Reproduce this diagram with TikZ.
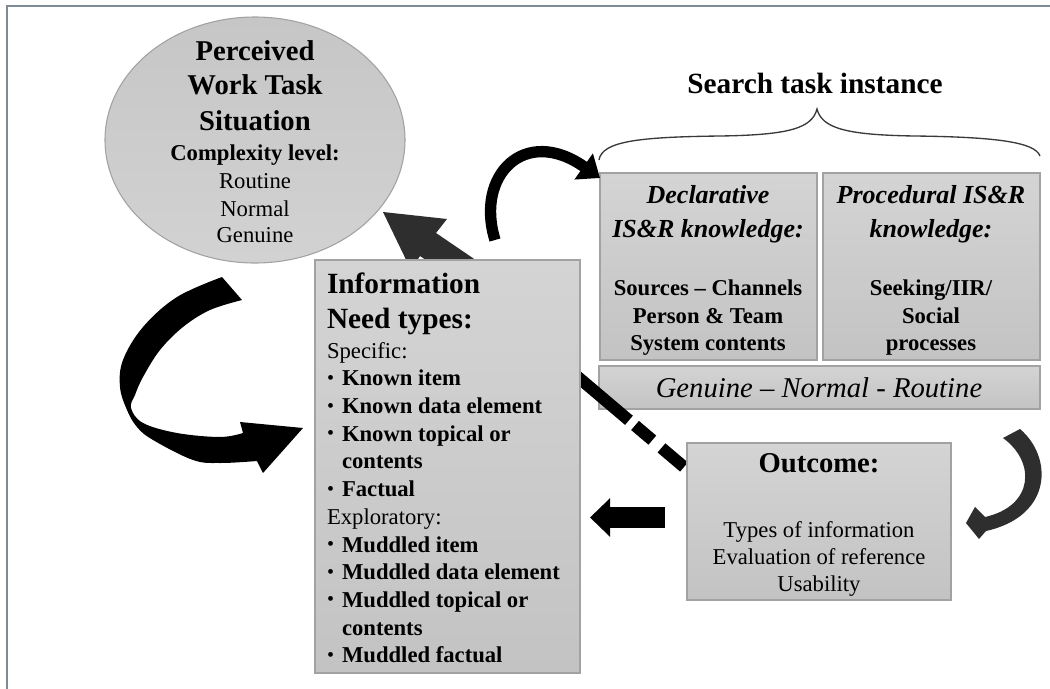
\documentclass[tikz,border=0pt]{standalone}
\usepackage{fontspec}
\setmainfont{Liberation Serif}
\usetikzlibrary{shapes.geometric,arrows.meta,fit}

\definecolor{boxedge}{HTML}{A2A2A2}
\definecolor{boxtop}{HTML}{D4D4D4}
\definecolor{boxbot}{HTML}{C3C3C3}
\definecolor{ovaltop}{HTML}{C6C6C6}
\definecolor{ovalbot}{HTML}{D2D2D2}
\definecolor{frameline}{HTML}{7F8B96}
\definecolor{darkarrow}{HTML}{2E2E2E}
\definecolor{bracegray}{HTML}{3A3A3A}

\newcommand\bul{\makebox[11.25pt][l]{\raisebox{0.8pt}{\fontsize{15}{15}\selectfont\textbullet}}}
\newcommand\ind{\hspace*{11.25pt}}

\begin{document}
\begin{tikzpicture}[x=0.75pt,y=-0.75pt,
  panel/.style={draw=boxedge, line width=0.8pt, top color=boxtop, bottom color=boxbot, inner sep=0pt},
  txt/.style={anchor=base, inner sep=0pt, outer sep=0pt},
  ltxt/.style={anchor=base west, inner sep=0pt, outer sep=0pt},
  bigbold/.style={font=\fontsize{21.5}{26}\selectfont\bfseries},
  midbold/.style={font=\fontsize{17}{20}\selectfont\bfseries},
  plain/.style={font=\fontsize{17}{20}\selectfont},
  knowhead/.style={font=\fontsize{19.5}{24}\selectfont\bfseries\itshape},
]
\useasboundingbox (0,0) rectangle (1050,689);
\fill[white] (0,0) rectangle (1050,689);
\draw[frameline, line width=1.5pt] (7,689) -- (7,6) -- (1050,6);

% ---- perceived work task situation ----
\node[ellipse, draw=boxedge, line width=0.8pt, top color=ovaltop, bottom color=ovalbot,
      minimum width=225pt, minimum height=184.5pt, inner sep=0pt] (wts) at (255,140) {};
\node[txt, bigbold] (wts1) at (255,60) {Perceived};
\node[txt, bigbold] (wts2) at (255,94) {Work Task};
\node[txt, bigbold] (wts3) at (255,130) {Situation};
\node[txt, midbold] (wts4) at (255,160) {Complexity level:};
\node[txt, plain] (wts5) at (255,188) {Routine};
\node[txt, plain] (wts6) at (255,216) {Normal};
\node[txt, plain] (wts7) at (255,242) {Genuine};

% ---- arrow from the need types up to the work task (partly behind the box) ----
\fill[darkarrow] (383,212) -- (447,219) -- (436,233) -- (486,267) -- (470,290)
  -- (420,256) -- (411,270) -- cycle;

% ---- search task instance ----
\node[txt, font=\fontsize{22}{26}\selectfont\bfseries] (sti) at (815,93) {Search task instance};
\draw[bracegray, line width=1pt]
  (599,160) .. controls (602,141) and (640,137) .. (720,136)
  .. controls (790,135) and (812,128) .. (817,109)
  .. controls (822,128) and (845,135) .. (915,136)
  .. controls (995,137) and (1035,142) .. (1040,156);

\node[panel, fit={(600,173) (817,360)}] (decl) {};
\node[panel, fit={(823,173) (1040,360)}] (proc) {};
\node[panel, fit={(599,366) (1040,409)}] (level) {};

\node[txt, knowhead] (decl1) at (708,203) {Declarative};
\node[txt, knowhead] (decl2) at (708,237) {IS\&R knowledge:};
\node[txt, midbold] (decl3) at (708,295) {Sources – Channels};
\node[txt, midbold] (decl4) at (708,323) {Person \& Team};
\node[txt, midbold] (decl5) at (708,350) {System contents};

\node[txt, knowhead] (proc1) at (931,203) {Procedural IS\&R};
\node[txt, knowhead] (proc2) at (931,237) {knowledge:};
\node[txt, midbold] (proc3) at (931,295) {Seeking/IIR/};
\node[txt, midbold] (proc4) at (931,323) {Social};
\node[txt, midbold] (proc5) at (931,350) {processes};

\node[txt, font=\fontsize{21.5}{26}\selectfont\itshape] (level1) at (819,397) {Genuine – Normal - Routine};

% ---- dashed link from the outcome to the need types ----
\coordinate (dashA) at (572,372);
\coordinate (dashB) at (684,467);
\draw[black, line width=9pt, dash pattern=on 56pt off 6pt on 17pt off 9pt on 30pt] (dashA) -- (dashB);

% ---- information need types ----
\node[panel, fit={(315,260) (580,673)}] (need) {};
\node[ltxt, font=\fontsize{22}{26}\selectfont\bfseries] (need1) at (327,293) {Information};
\node[ltxt, font=\fontsize{22}{26}\selectfont\bfseries] (need2) at (327,328) {Need types:};
\foreach \yy/\body [count=\k] in {
  358/{Specific:},
  385.7/{\bul\textbf{Known item}},
  413.4/{\bul\textbf{Known data element}},
  441/{\bul\textbf{Known topical or}},
  468.8/{\ind\textbf{contents}},
  496.5/{\bul\textbf{Factual}},
  524/{Exploratory:},
  552/{\bul\textbf{Muddled item}},
  579.6/{\bul\textbf{Muddled data element}},
  607/{\bul\textbf{Muddled topical or}},
  635/{\ind\textbf{contents}},
  662.7/{\bul\textbf{Muddled factual}}}
  \node[ltxt, plain] (needl\k) at (327,\yy) {\body};

% ---- outcome ----
\node[panel, fit={(687,443) (951,600)}] (outc) {};
\node[txt, font=\fontsize{21.5}{26}\selectfont\bfseries] (outc1) at (819,472) {Outcome:};
\node[txt, plain] (outc2) at (819,537) {Types of information};
\node[txt, plain] (outc3) at (819,564) {Evaluation of reference};
\node[txt, plain] (outc4) at (819,591) {Usability};

% ---- arrows ----
% outcome back to the need types
\coordinate (backA) at (665,517.5);
\coordinate (backB) at (590,517.5);
\draw[black, line width=15.75pt, -{Triangle[length=15pt,width=28pt]}] (backA) -- (backB);

% level bar round to the outcome (tapering ribbon)
\fill[darkarrow]
  (1003,438) -- (1020,429)
  .. controls (1053,457) and (1053,516) .. (986,531)
  -- (979,539) -- (966,523) -- (975,507) -- (985,517)
  .. controls (1034,506) and (1036,462) .. (1003,438) -- cycle;

% need types over to the search task instance
\coordinate (topA) at (495,240);
\coordinate (topB) at (600,178);
\draw[black, line width=8.5pt, -{Triangle[length=15pt,width=23pt]}]
  (topA) .. controls (475,175) and (525,125) .. (topB);

% work task round into the need types (ribbon arrow)
\fill[black]
  plot[smooth, tension=0.6] coordinates {(222,277) (177,297) (143,327) (123,360) (120,387) (127,410) (137,427) (153,440) (193,460) (220,463) (257,461)}
  -- (263,473) -- (303,428) -- (240,422) -- (243,433)
  -- plot[smooth, tension=0.6] coordinates {(243,433) (220,437) (177,433) (143,423) (131,408) (135,395) (143,377) (160,350) (183,327) (210,310) (242,300)}
  -- cycle;
\end{tikzpicture}
\end{document}
